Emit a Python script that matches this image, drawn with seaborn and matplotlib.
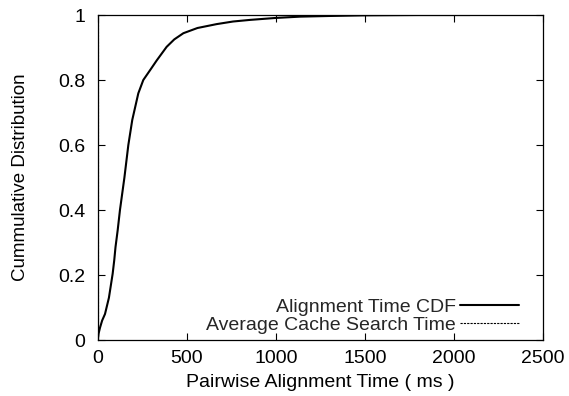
import matplotlib
matplotlib.use("Agg")
import matplotlib.pyplot as plt
import seaborn as sns
import pandas as pd

# Data
align_ms = [0, 5, 13, 25, 41, 63, 84, 93, 100, 112, 125, 150, 172, 194, 228, 256, 300, 331,
            387, 430, 481, 560, 668, 760, 856, 1000, 1137, 1300, 1500, 1800, 2090]
align_cdf = [0.0, 0.02, 0.038, 0.06, 0.08, 0.13, 0.204, 0.246, 0.286, 0.337, 0.40, 0.50, 0.60,
             0.677, 0.759, 0.80, 0.835, 0.86, 0.902, 0.925, 0.944, 0.96, 0.972, 0.98, 0.985,
             0.991, 0.995, 0.997, 0.999, 1.0, 1.0]
cache_ms = [2, 2]
cache_cdf = [0.0, 1.0]

x_ticks = [0, 500, 1000, 1500, 2000, 2500]
y_ticks = [0, 0.2, 0.4, 0.6, 0.8, 1]
y_ticklabels = ["0", "0.2", "0.4", "0.6", "0.8", "1"]

sns.set_theme(style="ticks")
plt.rcParams["font.family"] = ["Liberation Sans", "DejaVu Sans"]
FS = 14

fig = plt.figure(figsize=(5.69, 3.96), dpi=100)
ax = fig.add_axes([0.1717, 0.1414, 0.7826, 0.8207])

df_a = pd.DataFrame({"ms": align_ms, "cdf": align_cdf})
df_c = pd.DataFrame({"ms": cache_ms, "cdf": cache_cdf})

sns.lineplot(data=df_a, x="ms", y="cdf", ax=ax, color="black", linewidth=1.5,
             sort=False, estimator=None, label="Alignment Time CDF")
sns.lineplot(data=df_c, x="ms", y="cdf", ax=ax, color="black", linewidth=0.8,
             linestyle=(0, (2, 1)), sort=False, estimator=None,
             label="Average Cache Search Time")

ax.set_xlim(0, 2500)
ax.set_ylim(0, 1)
ax.set_xticks(x_ticks)
ax.set_yticks(y_ticks)
ax.set_yticklabels(y_ticklabels)
ax.set_xlabel("Pairwise Alignment Time ( ms )", fontsize=FS, color="black", labelpad=5)
ax.set_ylabel("Cummulative Distribution", fontsize=13.5, color="black", labelpad=21)

ax.tick_params(direction="in", length=5, width=0.8, top=True, right=True,
               labelsize=FS, colors="black")
ax.tick_params(axis="x", pad=7)
ax.tick_params(axis="y", pad=9)
for sp in ax.spines.values():
    sp.set_visible(True)
    sp.set_color("black")
    sp.set_linewidth(0.9)

leg = ax.legend(loc="lower right", frameon=False, markerfirst=False,
                handlelength=3.05, handletextpad=0.2, labelspacing=0.0,
                fontsize=FS, borderaxespad=0, borderpad=0,
                bbox_to_anchor=(0.946, 0.02))

fig.savefig("out.png", dpi=100)
